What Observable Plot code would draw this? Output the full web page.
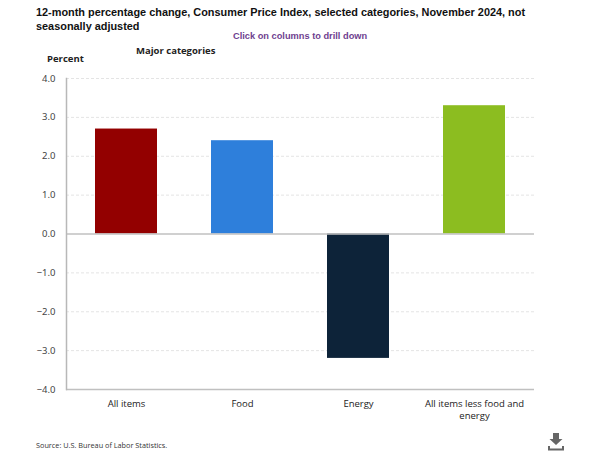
<!DOCTYPE html>
<html><head><meta charset="utf-8">
<script src="https://cdn.jsdelivr.net/npm/d3@7"></script>
<script src="https://cdn.jsdelivr.net/npm/@observablehq/plot@0.6"></script>
<style>
html,body{margin:0;padding:0;background:#fff;}
#wrap{position:relative;width:600px;height:451px;overflow:hidden;}
.t{position:absolute;white-space:nowrap;}
svg{display:block;}
</style></head>
<body><div id="wrap">
<div class="t" style="left:36px;top:6px;font:bold 10.9px/13.5px 'Liberation Sans';color:#111">12-month percentage change, Consumer Price Index, selected categories, November 2024, not<br>seasonally adjusted</div>
<div class="t" style="left:233px;top:30px;font:bold 9.25px/12px 'Liberation Sans';color:#6f3f8f">Click on columns to drill down</div>
<div class="t" style="left:136px;top:44px;font:bold 9.5px/14px 'Open Sans';color:#222">Major categories</div>
<div class="t" style="left:47px;top:52px;font:bold 9.5px/14px 'Open Sans';color:#222">Percent</div>
<div class="t" style="left:36px;top:440px;font:7.3px/10px 'Open Sans';color:#333">Source: U.S. Bureau of Labor Statistics.</div>
<svg class="t" style="left:546px;top:432px" width="20" height="20" viewBox="0 0 20 20" fill="#666"><path d="M7 1h6v6h3.5L10 13 3.5 7H7z"/><path d="M2 14h2v2.5h12V14h2v4.5H2z"/></svg>
</div>
<script>
const categories = ["All items", "Food", "Energy", "All items less food and energy"];
const values = [2.7, 2.4, -3.2, 3.3];
const barColors = ["#930000", "#2e7fdb", "#0d2339", "#8cbd20"];
const yTicks = [-4, -3, -2, -1, 0, 1, 2, 3, 4];
const rows = categories.map((c, i) => ({c, v: values[i], col: barColors[i]}));

const chart = Plot.plot({
  width: 600, height: 451,
  marginLeft: 66, marginRight: 66, marginTop: 78, marginBottom: 62,
  style: {background: "transparent", overflow: "visible"},
  x: {domain: categories, paddingInner: 0.465, paddingOuter: 0.235, label: null},
  y: {domain: [-4, 4], label: null},
  marks: [
    Plot.ruleY(yTicks.filter(d => d !== 0 && d !== -4), {stroke: "#e4e4e4", strokeWidth: 1, strokeDasharray: "3,2"}),
    Plot.barY(rows, {x: "c", y: "v", fill: "col"}),
    Plot.ruleY([0, -4], {stroke: "#c0c0c0", strokeWidth: 1.5}),
    Plot.frame({anchor: "left", stroke: "#b8b8b8", strokeWidth: 1.5}),
    Plot.axisY({ticks: yTicks, tickFormat: d3.format(".1f"), tickSize: 0, tickPadding: 11, fontSize: 9.5, fill: "#444", label: null}),
    Plot.axisX({tickSize: 0, tickPadding: 8, fontFamily: "Open Sans", fontSize: 9.5, fill: "#222",
      label: null, lineWidth: 11, lineHeight: 1.35})
  ]
});
chart.style.position = "absolute";
chart.style.left = "0";
chart.style.top = "0";
document.getElementById("wrap").prepend(chart);
</script>
</body></html>
